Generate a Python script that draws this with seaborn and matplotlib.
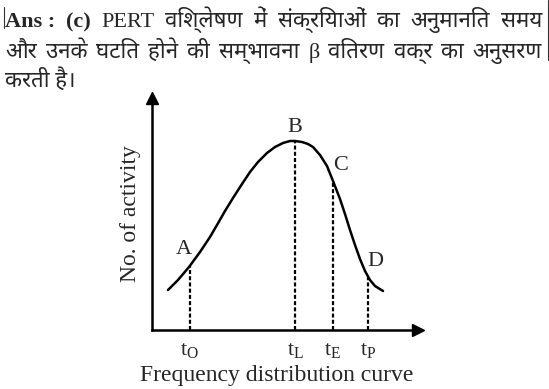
import matplotlib
matplotlib.use("Agg")
import matplotlib.pyplot as plt
import seaborn as sns
from matplotlib import font_manager
from matplotlib.lines import Line2D

# beta curve (time from origin, no. of activities)
curve_time = [16, 26, 37, 48, 58, 65, 73, 81, 90, 98, 106, 115, 123, 131, 138, 143,
              150, 156, 161, 168, 175, 181, 188, 193, 198, 203, 208, 213, 218, 223, 231]
curve_count = [40, 50, 63, 78, 93, 105, 119, 132, 146, 158, 168, 177, 183, 187, 189, 189,
               188, 186, 183, 175, 164, 149, 131, 116, 100, 85, 71, 59, 50, 44, 39]

point_labels = ["A", "B", "C", "D"]
event_time = [38, 143, 181, 216]
event_count = [64, 189, 149, 53]
tick_labels = [r"$\mathrm{t}_{\mathrm{O}}$", r"$\mathrm{t}_{\mathrm{L}}$",
               r"$\mathrm{t}_{\mathrm{E}}$", r"$\mathrm{t}_{\mathrm{P}}$"]

line1_words = ["Ans :", "(c)", "PERT", "विश्लेषण", "में", "संक्रियाओं", "का", "अनुमानित", "समय"]
line2_words = ["और", "उनके", "घटित", "होने", "की", "सम्भावना", "β", "वितरण", "वक्र", "का", "अनुसरण"]
line3_text = "करती है।"

sns.set_style("white")
names = {f.name for f in font_manager.fontManager.ttflist}
deva = next((n for n in ["Noto Sans Devanagari", "Hind", "Mukta", "Ek Mukta", "Amiko"] if n in names), "DejaVu Sans")
plt.rcParams["font.family"] = ["Liberation Serif", deva]
plt.rcParams["mathtext.fontset"] = "custom"
plt.rcParams["mathtext.rm"] = "Liberation Serif"

W, H = 549, 389
fig = plt.figure(figsize=(W / 100, H / 100), dpi=100)
fig.patch.set_facecolor("white")

# header text, justified like the source page
renderer = fig.canvas.get_renderer()


def put_line(words, y_pix, x0=5, x1=542, justify=True, size=16, bold_first=0):
    texts = []
    for i, w in enumerate(words):
        t = fig.text(0, 1 - y_pix / H, w, fontsize=size, va="baseline",
                     fontweight="bold" if i < bold_first else "normal")
        texts.append(t)
    widths = [t.get_window_extent(renderer).width for t in texts]
    gap = (x1 - x0 - sum(widths)) / (len(words) - 1) if justify and len(words) > 1 else 5
    x = x0
    for t, wd in zip(texts, widths):
        t.set_x(x / W)
        x += wd + gap


put_line(line1_words, 27, bold_first=2)
put_line(line2_words, 58)
put_line([line3_text], 87, justify=False)
# page edge marks
fig.add_artist(Line2D([3.5 / W, 3.5 / W], [1 - 7 / H, 1 - 28 / H], color="#333333", lw=0.8))
fig.add_artist(Line2D([547.5 / W, 547.5 / W], [1.0, 1 - 60 / H], color="#333333", lw=0.8))

ax = fig.add_axes([152 / W, 59 / H, 266 / W, 232 / H])
ax.set_facecolor("white")
sns.lineplot(x=curve_time, y=curve_count, sort=False, color="black", lw=1.8, ax=ax)
ax.vlines(event_time, 0, event_count, colors="black", lw=1.6, linestyles=(0, (1.8, 1.0)))

label_offsets = [(-6, 16), (0, 13), (8, 16), (7, 15)]
for lab, tx, cy, (dx, dy) in zip(point_labels, event_time, event_count, label_offsets):
    ax.text(tx + dx, cy + dy, lab, fontsize=16, ha="center", va="center")

ax.set_xlim(0, 266)
ax.set_ylim(0, 232)
ax.set_xticks(event_time, tick_labels)
ax.set_yticks([])
ax.tick_params(axis="x", length=0, pad=8, labelsize=16)
for s in ["top", "right"]:
    ax.spines[s].set_visible(False)
for s in ["left", "bottom"]:
    ax.spines[s].set_color("black")
    ax.spines[s].set_linewidth(1.8)
ax.plot(1, 0, ">k", ms=8, transform=ax.transAxes, clip_on=False)
ax.plot(0, 1, "^k", ms=8, transform=ax.transAxes, clip_on=False)

ax.set_xlabel("Frequency distribution curve", fontsize=17)
ax.xaxis.set_label_coords(0.47, -0.15)
ax.set_ylabel("No. of activity", fontsize=17)
ax.yaxis.set_label_coords(-0.04, 0.5)

fig.savefig("out.png", dpi=100)
